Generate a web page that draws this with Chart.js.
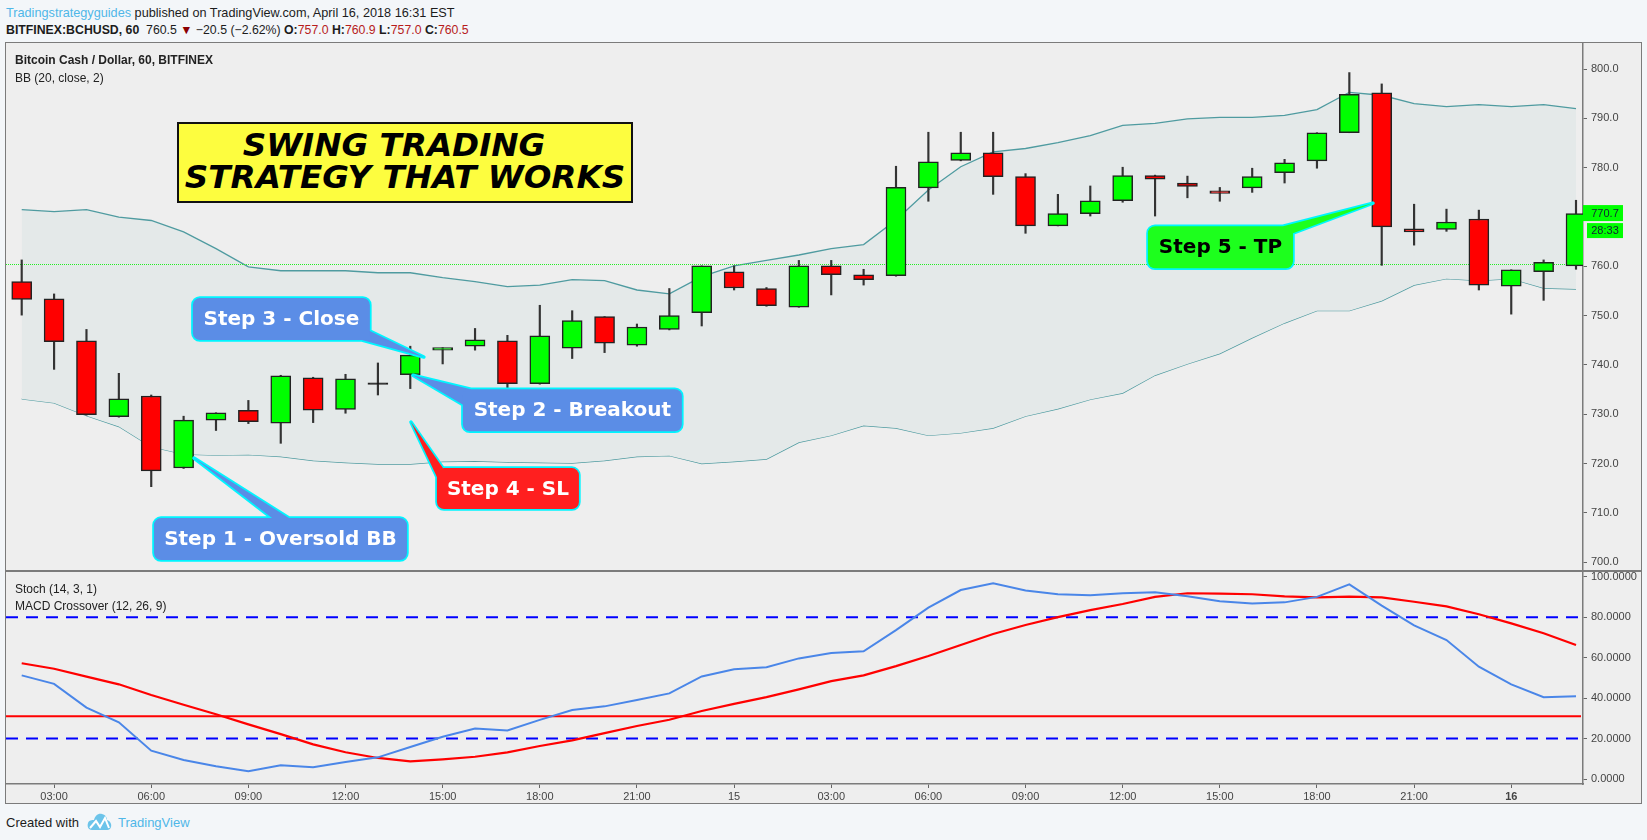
<!DOCTYPE html>
<html>
<head>
<meta charset="utf-8">
<title>Swing trading strategy</title>
<script src="https://cdn.jsdelivr.net/npm/chart.js@4"></script>
<style>
  html, body { margin: 0; padding: 0; background: #f3f6f9; width: 1647px; height: 840px; overflow: hidden; }
  body { font-family: "Liberation Sans", Arial, sans-serif; color: #1c1c1c; position: relative; }
  .abs { position: absolute; white-space: nowrap; }
  #pane { left: 6px; top: 43px; width: 1635px; height: 761px; background: #eeeeee; }
  #frame { left: 5px; top: 42px; width: 1635px; height: 760px; border: 1.5px solid #7b7b7b; pointer-events: none; }
  #divider { left: 6px; top: 570px; width: 1635px; height: 1.5px; background: #7b7b7b; }
  canvas { position: absolute; display: block; }
  #priceChart { left: 6px; top: 43px; }
  #stochChart { left: 6px; top: 571px; }
  .head { line-height: 16px; }
  .dn { color: #b71c1c; }
  .lbl { font-size: 12px; line-height: 15px; color: #222; }
  #banner { left: 177px; top: 122px; width: 452px; height: 72px; background: #fdfd3f; border: 2px solid #111;
    font: italic bold 32.6px/32px "DejaVu Sans", sans-serif; color: #000; text-align: center; padding-top: 5px; }
  #banner span { display: block; }
</style>
</head>
<body>
<div class="abs head" style="left:6px;top:5px;font-size:12.7px"><span style="color:#4fb7e8">Tradingstrategyguides</span> published on TradingView.com, April 16, 2018 16:31 EST</div>
<div class="abs head" style="left:6px;top:22px;font-size:12.3px"><b>BITFINEX:BCHUSD, 60</b>&nbsp; 760.5 <span style="color:#8b0000">▼</span> −20.5 (−2.62%) <b>O:</b><span class="dn">757.0</span> <b>H:</b><span class="dn">760.9</span> <b>L:</b><span class="dn">757.0</span> <b>C:</b><span class="dn">760.5</span></div>

<div class="abs" id="pane"></div>
<canvas id="priceChart" width="1635" height="528"></canvas>
<canvas id="stochChart" width="1635" height="233"></canvas>
<div class="abs" id="divider"></div>
<div class="abs" id="frame"></div>

<div class="abs lbl" style="left:15px;top:53px;font-weight:bold">Bitcoin Cash / Dollar, 60, BITFINEX</div>
<div class="abs lbl" style="left:15px;top:71px">BB (20, close, 2)</div>
<div class="abs lbl" style="left:15px;top:582px">Stoch (14, 3, 1)</div>
<div class="abs lbl" style="left:15px;top:599px">MACD Crossover (12, 26, 9)</div>

<div class="abs" id="banner"><span style="margin-right:22px">SWING TRADING</span><span>STRATEGY THAT WORKS</span></div>

<div class="abs" style="left:6px;top:815px;font-size:13px;line-height:16px">Created with</div>
<svg class="abs" style="left:87px;top:812px" width="25" height="20" viewBox="0 0 25 20">
  <path d="M5 18 C1 18 0 14 1 11 C2 8 5 8 7 8 C8 4 11 1 15 2 C19 3 20 6 20 8 C23 9 25 12 24 15 C23 18 21 18 19 18 Z" fill="#6cc4ea"/>
  <path d="M3 16 L9 9 L13 15 L18 6 L22 16" fill="none" stroke="#fff" stroke-width="2"/>
</svg>
<div class="abs" style="left:118px;top:815px;font-size:13px;line-height:16px;color:#4fb7e8">TradingView</div>

<script>
// hourly candles
const opens = [756.9,753.4,744.9,729.5,733.7,719.1,728.8,730.8,728.2,737.4,731.0,736.05,738.0,743.0,743.8,744.9,736.2,743.4,749.8,744.0,747.2,750.6,758.9,755.5,751.7,760.1,758.3,758.1,775.9,781.5,783.0,778.2,768.2,770.7,773.3,778.4,776.9,775.3,775.9,779.0,781.4,787.1,795.2,767.6,767.5,769.6,756.0,758.9,760.1];
const highs = [761.3,754.4,747.2,738.3,733.9,729.6,730.3,732.8,737.9,737.5,738.1,740.4,743.8,743.5,747.4,746.0,752.1,751.0,749.8,748.3,755.5,760.1,760.1,755.7,761.2,761.2,759.4,780.3,787.2,787.2,787.2,778.8,774.6,776.3,780.1,778.5,778.3,776.0,779.9,781.7,787.1,799.3,797.0,772.6,771.6,771.4,759.3,761.3,773.4];
const lows = [750.1,739.1,729.8,729.4,715.3,719.0,726.7,728.1,724.1,728.3,730.2,733.9,735.2,740.2,743.0,735.1,736.1,741.3,742.5,743.8,747.1,747.9,755.2,751.9,751.7,754.2,756.2,758.0,773.2,781.4,774.6,766.7,768.2,770.2,773.0,770.2,773.9,773.2,775.0,776.9,779.9,787.1,760.2,764.3,767.1,755.2,750.3,753.1,759.4];
const closes = [753.3,744.7,729.9,733.1,718.5,728.8,730.3,728.5,737.8,730.8,737.2,736.35,742.0,743.5,745.1,736.2,745.9,749.0,744.4,747.7,750.0,760.1,755.6,752.0,760.1,758.3,757.3,776.0,781.2,783.0,778.2,768.2,770.7,773.3,778.4,777.7,776.2,774.8,778.2,781.0,787.1,794.9,768.0,767.0,769.0,756.2,759.3,760.8,770.7];

// Bollinger bands
const bbUpper = [771.5,771.1,771.5,770.0,769.3,767.0,763.6,759.9,759.1,759.1,759.1,758.7,758.7,757.7,756.9,755.9,756.2,757.3,757.1,755.2,754.4,757.9,760.1,761.2,762.3,763.6,764.4,769.4,775.5,780.2,783.2,783.9,785.1,786.5,788.6,789.0,789.9,790.2,790.2,790.6,791.8,795.3,794.7,793.0,792.4,792.8,792.4,792.8,792.0];
const bbBasis = [752.3,751.3,750.1,748.8,746.0,744.7,742.7,740.8,740.2,739.8,739.6,739.4,739.4,739.1,738.8,738.3,738.3,738.8,738.5,738.2,738.0,740.0,740.5,741.3,743.0,744.8,746.0,748.4,750.4,753.0,755.0,756.2,757.7,759.2,761.3,763.4,765.3,766.8,768.3,769.7,771.6,773.1,773.6,774.6,774.9,774.9,774.9,774.1,773.7];
const bbLower = [733.1,732.3,729.7,727.5,723.4,721.9,721.7,721.8,721.4,720.6,720.2,719.9,719.9,720.4,720.5,720.3,720.2,720.1,720.6,721.4,721.6,720.0,720.4,720.9,724.3,725.7,727.7,727.2,725.7,726.2,727.2,729.6,731.1,733.0,734.3,737.9,740.2,742.3,745.5,748.5,751.0,751.0,753.0,756.2,757.5,757.1,757.5,755.6,755.4];

// lower pane
const stochLine = [51.2,47.0,35.3,28.0,14.0,9.4,6.3,3.8,6.8,5.8,8.4,10.7,15.8,20.9,25.0,24.0,29.2,34.1,35.9,39.0,42.3,50.7,54.2,55.2,59.6,62.3,63.1,73.6,84.7,93.4,96.7,93.2,91.3,90.8,91.8,92.3,90.3,87.8,86.7,87.3,90.0,96.2,85.7,75.9,68.7,55.5,46.8,40.4,40.9];
const macdLine = [57.2,54.5,50.6,46.8,41.5,36.7,32.0,27.0,22.2,17.1,13.2,10.4,8.7,9.7,11.0,13.2,16.3,19.1,22.7,26.2,29.3,33.6,37.1,40.5,44.3,48.4,51.2,55.8,60.8,66.2,71.7,76.1,80.0,83.5,86.5,90.0,91.8,91.6,91.3,90.3,89.8,90.1,89.8,87.6,85.3,81.4,76.9,72.0,66.2];
const dashedLevels = [80, 20];
const macdLevel = 31;

// axes
const xTickBars = [1,4,7,10,13,16,19,22,25,28,31,34,37,40,43,46];
const xTickLabels = ["03:00","06:00","09:00","12:00","15:00","18:00","21:00","15","03:00","06:00","09:00","12:00","15:00","18:00","21:00","16"];
const priceTicks = [700,710,720,730,740,750,760,770,780,790,800];
const stochTicks = [0,20,40,60,80,100];

const priceLine = 760.5;
const lastPrice = 770.7;
const countdown = "28:33";

// callouts: tip is in chart values, the box hangs off it in pixels
const callouts = [
  { text: "Step 1 - Oversold BB", tipBar: 5.32, tipPrice: 721.1, box: [-40, 60, 253, 42], base: [[78, 60], [95, 60]], fill: "#5b8de6", ink: "#fff" },
  { text: "Step 2 - Breakout", tipBar: 12.08, tipPrice: 737.9, box: [50, 14, 219, 42], base: [[58, 14], [51, 30]], fill: "#5b8de6", ink: "#fff" },
  { text: "Step 3 - Close", tipBar: 12.42, tipPrice: 741.6, box: [-231, -59, 177, 42], base: [[-56, -27], [-62, -17]], fill: "#5b8de6", ink: "#fff" },
  { text: "Step 4 - SL", tipBar: 12.02, tipPrice: 728.4, box: [26, 46, 142, 41], base: [[32, 46], [26, 55]], fill: "#ff1f1f", ink: "#fff" },
  { text: "Step 5 - TP", tipBar: 41.73, tipPrice: 772.8, box: [-225, 23, 145, 42], base: [[-90, 23], [-80, 30]], fill: "#1dff1d", ink: "#000" }
];

const UP = "#00ff00", DOWN = "#ff0000", DOJI = "#111";
const TICK_FONT = { family: "'Liberation Sans', Arial, sans-serif", size: 11 };
const X_MIN = -0.485, X_MAX = 48.216;

const series = arr => arr.map((v, i) => ({ x: i, y: v }));

function lineSet(values, color, width, extra) {
  return Object.assign({
    type: "line", data: series(values), borderColor: color, borderWidth: width,
    pointRadius: 0, tension: 0, fill: false, order: 3
  }, extra);
}

function bodyColor(open, i) {
  if (Math.abs(closes[i] - open) < 0.4) return DOJI;
  return closes[i] >= open ? UP : DOWN;
}

function yAxis(min, max, ticks, digits) {
  return {
    position: "right", min: min, max: max,
    afterFit: s => { s.width = 58; s.paddingTop = 0; s.paddingBottom = 0; },
    afterBuildTicks: s => { s.ticks = ticks.map(v => ({ value: v })); },
    ticks: { font: TICK_FONT, color: "#444", padding: 4, callback: v => v.toFixed(digits), maxRotation: 0 },
    grid: { drawOnChartArea: false, tickLength: 4, tickColor: "#666" },
    border: { display: true, color: "#7b7b7b", width: 1.5 }
  };
}

// green last price line and the two tags on the price axis
const priceDecor = {
  id: "priceDecor",
  beforeDatasetDraw(chart, args) {
    if (args.index !== 3) return; // after the band, under the candles
    const { ctx, chartArea: a, scales: { y } } = chart;
    const py = Math.round(y.getPixelForValue(priceLine)) + 0.5;
    ctx.save();
    ctx.strokeStyle = "#22ee22";
    ctx.lineWidth = 1;
    ctx.setLineDash([1, 1]);
    ctx.beginPath(); ctx.moveTo(a.left, py); ctx.lineTo(a.right, py); ctx.stroke();
    ctx.restore();
  },
  afterDatasetsDraw(chart) {
    const { ctx, chartArea: a, scales: { y } } = chart;
    const py = y.getPixelForValue(lastPrice);
    ctx.save();
    ctx.fillStyle = UP;
    ctx.fillRect(a.right, py - 8.5, 40, 16);
    ctx.fillRect(a.right + 4, py + 9.5, 36, 15);
    ctx.fillStyle = "#123";
    ctx.font = "11px 'Liberation Sans', Arial, sans-serif";
    ctx.textAlign = "center";
    ctx.textBaseline = "middle";
    ctx.fillText(lastPrice.toFixed(1), a.right + 22, py);
    ctx.fillText(countdown, a.right + 22, py + 17);
    ctx.restore();
  }
};

const calloutPlugin = {
  id: "calloutPlugin",
  afterDraw(chart) {
    const { ctx, scales: { x, y } } = chart;
    callouts.forEach(c => {
      const tx = x.getPixelForValue(c.tipBar), ty = y.getPixelForValue(c.tipPrice);
      const [dx, dy, w, h] = c.box;
      const tail = () => {
        ctx.moveTo(tx, ty);
        ctx.lineTo(tx + c.base[0][0], ty + c.base[0][1]);
        ctx.lineTo(tx + c.base[1][0], ty + c.base[1][1]);
        ctx.closePath();
      };
      ctx.save();
      ctx.lineJoin = "round";
      ctx.strokeStyle = "#00f5ff";
      ctx.lineWidth = 3.5;
      ctx.beginPath(); tail(); ctx.roundRect(tx + dx, ty + dy, w, h, 7); ctx.stroke();
      ctx.fillStyle = c.fill;
      // two fills so the tail and box overlap without a winding hole
      ctx.beginPath(); tail(); ctx.fill();
      ctx.beginPath(); ctx.roundRect(tx + dx, ty + dy, w, h, 7); ctx.fill();
      ctx.fillStyle = c.ink;
      ctx.font = "bold 20px 'DejaVu Sans', sans-serif";
      ctx.textAlign = "center";
      ctx.textBaseline = "middle";
      ctx.fillText(c.text, tx + dx + w / 2, ty + dy + h / 2 + 1);
      ctx.restore();
    });
  }
};

const stochDecor = {
  id: "stochDecor",
  beforeDatasetsDraw(chart) {
    const { ctx, chartArea: a, scales: { y } } = chart;
    ctx.save();
    ctx.lineWidth = 2;
    ctx.strokeStyle = "#0000ff";
    ctx.setLineDash([12, 8]);
    dashedLevels.forEach(v => {
      const py = y.getPixelForValue(v);
      ctx.beginPath(); ctx.moveTo(a.left, py); ctx.lineTo(a.right - 2, py); ctx.stroke();
    });
    ctx.setLineDash([]);
    ctx.strokeStyle = "#ff0000";
    const my = y.getPixelForValue(macdLevel);
    ctx.beginPath(); ctx.moveTo(a.left, my); ctx.lineTo(a.right - 2, my); ctx.stroke();
    ctx.restore();
  }
};

Chart.defaults.animation = false;

const priceChart = new Chart(document.getElementById("priceChart"), {
  type: "bar",
  data: {
    datasets: [
      lineSet(bbUpper, "#4f9ba0", 1.3, { fill: { target: 2 }, backgroundColor: "#e4e9e9" }),
      lineSet(bbBasis, "#8f5656", 1.3),
      lineSet(bbLower, "#4f9ba0", 1.3),
      {
        data: lows.map((v, i) => ({ x: i, y: [v, highs[i]] })),
        backgroundColor: "#333", barThickness: 1.5, grouped: false, order: 2
      },
      {
        data: opens.map((v, i) => ({ x: i, y: [v, closes[i]] })),
        backgroundColor: opens.map(bodyColor),
        borderColor: "#222", borderWidth: 1.5, borderSkipped: false,
        barThickness: 20, grouped: false, order: 1
      }
    ]
  },
  options: {
    responsive: false,
    plugins: { legend: { display: false }, tooltip: { enabled: false } },
    scales: {
      x: { type: "linear", display: false, min: X_MIN, max: X_MAX, offset: false, grid: { offset: false } },
      y: yAxis(698.2, 805.3, priceTicks, 1)
    }
  },
  plugins: [priceDecor, calloutPlugin]
});

const stochChart = new Chart(document.getElementById("stochChart"), {
  type: "line",
  data: {
    datasets: [
      lineSet(stochLine, "#4a86e8", 2),
      lineSet(macdLine, "#ff0000", 2.2)
    ]
  },
  options: {
    responsive: false,
    plugins: { legend: { display: false }, tooltip: { enabled: false } },
    scales: {
      x: {
        type: "linear", min: X_MIN, max: X_MAX, offset: false,
        afterFit: s => { s.height = 20; s.paddingLeft = 0; s.paddingRight = 0; },
        afterBuildTicks: s => { s.ticks = xTickBars.map(v => ({ value: v })); },
        ticks: {
          color: "#444", padding: 2, maxRotation: 0, autoSkip: false,
          font: c => Object.assign({}, TICK_FONT, { weight: c.index === xTickLabels.length - 1 ? "bold" : "normal" }),
          callback: (v, i) => xTickLabels[i]
        },
        grid: { drawOnChartArea: false, tickLength: 4, tickColor: "#666" },
        border: { display: true, color: "#7b7b7b", width: 1.5 }
      },
      y: yAxis(-2.47, 102.8, stochTicks, 4)
    }
  },
  plugins: [stochDecor]
});
</script>
</body>
</html>
